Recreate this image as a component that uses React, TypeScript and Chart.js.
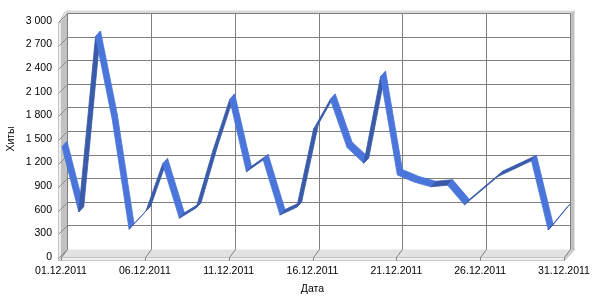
import React, { useEffect, useRef } from "react";
import { Chart, registerables } from "chart.js";

Chart.register(...registerables);

const dayLabels: string[] = Array.from({ length: 31 }, (_, i) => `${String(i + 1).padStart(2, "0")}.12.2011`);

const hits: number[] = [
  1390, 560, 2790, 1730, 340, 570, 1170, 480, 610, 1340,
  1990, 1070, 1220, 520, 620, 1610, 1990, 1380, 1180, 2280,
  1030, 940, 880, 900, 650, 830, 1010, 1110, 1210, 330, 590,
];

const yMin = 0;
const yMax = 3000;
const yStep = 300;
const labelEvery = 5;

const xTitle = "Дата";
const yTitle = "Хиты";

const FONT = { family: "'Liberation Sans', Arial, sans-serif", size: 10.5 };

// 3D depth of the back wall and of the ribbon
const DX = 6;
const DY = -8;
const RF = [1, -1];
const RB = [6, -6.5];

const LIGHT = "#4A75DA";
const DARK = "#3A5BA9";

function poly(ctx: CanvasRenderingContext2D, pts: number[][], fill: string, stroke?: string, lw = 1) {
  ctx.beginPath();
  ctx.moveTo(pts[0][0], pts[0][1]);
  for (let i = 1; i < pts.length; i++) ctx.lineTo(pts[i][0], pts[i][1]);
  ctx.closePath();
  ctx.fillStyle = fill;
  ctx.fill();
  if (stroke) {
    ctx.strokeStyle = stroke;
    ctx.lineWidth = lw;
    ctx.stroke();
  }
}

function line(ctx: CanvasRenderingContext2D, x1: number, y1: number, x2: number, y2: number, color: string) {
  ctx.beginPath();
  ctx.moveTo(x1, y1);
  ctx.lineTo(x2, y2);
  ctx.strokeStyle = color;
  ctx.lineWidth = 1;
  ctx.stroke();
}

const walls3d = {
  id: "walls3d",
  beforeDatasetsDraw(chart: any) {
    const { ctx, chartArea: a, scales } = chart;
    const xs = scales.x;
    const ys = scales.y;
    const L = Math.round(a.left) + 0.5;
    const R = Math.round(a.right) + 0.5;
    const T = Math.round(a.top) + 0.5;
    const B = Math.round(a.bottom) + 0.5;
    ctx.save();
    // floor
    poly(ctx, [[L, B], [L + DX, B + DY], [R + DX, B + DY], [R, B]], "#E2E2E2");
    // floor front thickness
    poly(ctx, [[L - 3, B], [R, B], [R, B + 3], [L - 3, B + 3]], "#F0F0F0", "#A8A8A8", 0.6);
    poly(ctx, [[R, B], [R + DX, B + DY], [R + DX + 4, B + DY], [R + 4, B - 1], [R, B + 3]], "#D4D4D4", "#A8A8A8", 0.6);
    // left wall inner face
    poly(ctx, [[L, T], [L + DX, T + DY], [L + DX, B + DY], [L, B]], "#C2C2C2");
    // left wall outer thickness
    poly(ctx, [[L - 3, T + 2], [L, T], [L, B], [L - 3, B + 3]], "#EDEDED", "#A8A8A8", 0.6);
    // top caps
    poly(ctx, [[L - 3, T + 2], [L + DX - 3, T + DY - 1], [L + DX, T + DY - 3], [L + DX, T + DY], [L, T]], "#E2E2E2", "#B4B4B4", 0.6);
    poly(ctx, [[L + DX, T + DY - 3], [R + DX + 4, T + DY - 3], [R + DX + 4, T + DY], [L + DX, T + DY]], "#DADADA");
    // right back strip
    poly(ctx, [[R + DX, T + DY], [R + DX + 4, T + DY - 3], [R + DX + 4, B + DY], [R + DX, B + DY]], "#C0C0C0");

    // horizontal gridlines
    for (let v = yMin; v <= yMax; v += yStep) {
      const yF = Math.round(ys.getPixelForValue(v)) + 0.5;
      if (v > yMin) line(ctx, L + DX, yF + DY, R + DX, yF + DY, "#7F7F7F");
      line(ctx, L - 3, yF + 1, L + DX, yF + DY, "#8C8C8C");
    }
    // vertical gridlines
    for (let i = 0; i < dayLabels.length; i += labelEvery) {
      const xF = Math.round(xs.getPixelForValue(i)) + 0.5;
      line(ctx, xF + DX, T + DY, xF + DX, B + DY, "#7F7F7F");
      line(ctx, xF + DX, B + DY, xF, B, "#7F7F7F");
      line(ctx, xF, B, xF, B + 3, "#7F7F7F");
    }
    ctx.restore();
  },
  afterDatasetsDraw(chart: any) {
    const { ctx, scales } = chart;
    const xs = scales.x;
    const ys = scales.y;
    const pts = hits.map((v, i) => [xs.getPixelForValue(i), ys.getPixelForValue(v)]);
    ctx.save();
    ctx.lineJoin = "round";
    for (let i = 0; i < pts.length - 1; i++) {
      const p = pts[i];
      const q = pts[i + 1];
      const col = hits[i + 1] > hits[i] ? DARK : LIGHT;
      poly(
        ctx,
        [
          [p[0] + RF[0], p[1] + RF[1]],
          [q[0] + RF[0], q[1] + RF[1]],
          [q[0] + RB[0], q[1] + RB[1]],
          [p[0] + RB[0], p[1] + RB[1]],
        ],
        col,
        col,
        0.8
      );
    }
    ctx.restore();
  },
};

function fmt(v: number): string {
  if (v >= 1000) return `${Math.floor(v / 1000)} ${String(v % 1000).padStart(3, "0")}`;
  return String(v);
}

export default function App() {
  const ref = useRef<HTMLCanvasElement | null>(null);
  useEffect(() => {
    if (!ref.current) return;
    const chart = new Chart(ref.current, {
      type: "line",
      data: {
        labels: dayLabels,
        datasets: [
          {
            data: hits,
            borderWidth: 0,
            pointRadius: 0,
            showLine: false,
            borderColor: "rgba(0,0,0,0)",
          },
        ],
      },
      options: {
        animation: false,
        responsive: false,
        events: [],
        layout: { padding: { top: 21, right: 36, left: 0, bottom: 0 } },
        plugins: { legend: { display: false }, tooltip: { enabled: false } },
        scales: {
          x: {
            type: "category",
            offset: false,
            grid: { display: false, drawTicks: false },
            border: { display: false },
            ticks: {
              autoSkip: false,
              maxRotation: 0,
              minRotation: 0,
              padding: 8,
              color: "#000",
              font: FONT,
              callback: (_v: any, idx: number) => (idx % labelEvery === 0 ? dayLabels[idx] : ""),
            },
            title: { display: true, text: xTitle, color: "#000", font: FONT, padding: { top: 0, bottom: 5 } },
            afterFit: (s: any) => {
              s.height = 43;
            },
          },
          y: {
            min: yMin,
            max: yMax,
            grid: { display: false, drawTicks: false },
            border: { display: false },
            ticks: { stepSize: yStep, padding: 9, color: "#000", font: FONT, callback: (v: any) => fmt(Number(v)) },
            title: { display: true, text: yTitle, color: "#000", font: FONT, padding: { top: 5, bottom: 0 } },
            afterFit: (s: any) => {
              s.width = 61;
            },
          },
        },
      },
      plugins: [walls3d],
    });
    return () => chart.destroy();
  }, []);
  return (
    <div style={{ position: "absolute", left: 0, top: 0, width: 600, height: 300, background: "#fff" }}>
      <canvas ref={ref} width={600} height={300} />
    </div>
  );
}
